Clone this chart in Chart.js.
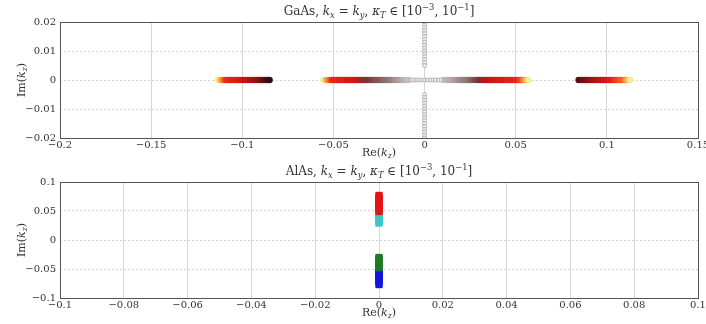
<!DOCTYPE html>
<html>
<head>
<meta charset="utf-8">
<script src="https://cdn.jsdelivr.net/npm/chart.js@4/dist/chart.umd.min.js"></script>
<style>
  html, body { margin: 0; padding: 0; background: #fff; }
  #wrap { position: relative; width: 706px; height: 324px; }
  canvas { position: absolute; left: 0; }
  #top { top: 0; }
  #bot { top: 160px; }
</style>
</head>
<body>
<div id="wrap">
  <canvas id="top" width="706" height="160"></canvas>
  <canvas id="bot" width="706" height="164"></canvas>
</div>
<script>
// ---------- Data: GaAs, Re(kz) of the real branches (Im = 0) ----------
const gaasBranchA = [-0.1135,-0.112,-0.1105,-0.109,-0.1075,-0.106,-0.1045,-0.103,-0.1015,-0.100,-0.0985,-0.097,-0.0955,-0.094,-0.0925,-0.091,-0.0895,-0.088,-0.0865,-0.085];
const gaasBranchB = [-0.0555,-0.054,-0.0525,-0.051,-0.0495,-0.048,-0.0465,-0.045,-0.0435,-0.042,-0.0405,-0.039,-0.0375,-0.036,-0.0345,-0.033,-0.0315,-0.030,-0.0285,-0.027,-0.0255,-0.024,-0.0225,-0.021,-0.0195,-0.018,-0.0165,-0.015,-0.0135,-0.012,-0.0105,-0.009];
const gaasBranchC = [0.0105,0.012,0.0135,0.015,0.0165,0.018,0.0195,0.021,0.0225,0.024,0.0255,0.027,0.0285,0.030,0.0315,0.033,0.0345,0.036,0.0375,0.039,0.0405,0.042,0.0435,0.045,0.0465,0.048,0.0495,0.051,0.0525,0.054,0.0555,0.057];
const gaasBranchD = [0.0845,0.086,0.0875,0.089,0.0905,0.092,0.0935,0.095,0.0965,0.098,0.0995,0.101,0.1025,0.104,0.1055,0.107,0.1085,0.110,0.1115,0.113];
// near-zero roots (open circles)
const gaasNearZeroRe = [-0.0075,-0.006,-0.0045,-0.003,-0.0015,0,0.0015,0.003,0.0045,0.006,0.0075,0.009];
const gaasImagIm = [0.020,0.019,0.018,0.017,0.016,0.015,0.014,0.013,0.012,0.011,0.010,0.009,0.008,0.007,0.006,0.005,
                    -0.005,-0.006,-0.007,-0.008,-0.009,-0.010,-0.011,-0.012,-0.013,-0.014,-0.015,-0.016,-0.017,-0.018,-0.019,-0.020];

// ---------- Data: AlAs, Im(kz) of the evanescent branches (Re = 0) ----------
const alasRed   = [0.077,0.075,0.073,0.071,0.069,0.067,0.065,0.063,0.061,0.059,0.057,0.055,0.053,0.051,0.049];
const alasCyan  = [0.047,0.045,0.043,0.041,0.039,0.037,0.035,0.033,0.031,0.029];
const alasGreen = [-0.030,-0.032,-0.034,-0.036,-0.038,-0.040,-0.042,-0.044,-0.046,-0.048];
const alasBlue  = [-0.050,-0.052,-0.054,-0.056,-0.058,-0.060,-0.062,-0.064,-0.066,-0.068,-0.070,-0.072,-0.074,-0.077];

// ---------- Tick labels ----------
const topXTicks = [-0.2,-0.15,-0.1,-0.05,0,0.05,0.1,0.15];
const topYTicks = [-0.02,-0.01,0,0.01,0.02];
const botXTicks = [-0.1,-0.08,-0.06,-0.04,-0.02,0,0.02,0.04,0.06,0.08,0.1];
const botYTicks = [-0.1,-0.05,0,0.05,0.1];

const SERIF = '"DejaVu Serif", "Liberation Serif", serif';
const TXT = '#333';

// ---------- colour helpers ----------
function hex2rgb(h){ return [1,3,5].map(i => parseInt(h.substr(i,2),16)); }
function ramp(stops, n){
  const out = [];
  for(let i=0;i<n;i++){
    const t = n>1 ? i/(n-1) : 0;
    let k = 0;
    while(k < stops.length-2 && t > stops[k+1][0]) k++;
    const [t0,c0] = stops[k], [t1,c1] = stops[k+1];
    const f = Math.min(1, Math.max(0, (t-t0)/(t1-t0)));
    const a = hex2rgb(c0), b = hex2rgb(c1);
    out.push(`rgb(${a.map((v,j)=>Math.round(v+(b[j]-v)*f)).join(',')})`);
  }
  return out;
}

const rampA = [[0,'#f0f0a0'],[0.06,'#ffa828'],[0.16,'#e83018'],[0.55,'#c81010'],[0.82,'#801010'],[1,'#281010']];
const rampB = [[0,'#f0f0a0'],[0.04,'#ffa030'],[0.1,'#e82818'],[0.4,'#d01414'],[0.5,'#7a3030'],[0.75,'#8a7070'],[1,'#c8c0c0']];
const rampC = [[0,'#c8c0c0'],[0.3,'#8a7070'],[0.42,'#703434'],[0.5,'#c01414'],[0.88,'#e82818'],[0.95,'#ff9030'],[1,'#f0f090']];
const rampD = [[0,'#501010'],[0.25,'#a01010'],[0.6,'#e01818'],[0.85,'#ff6020'],[1,'#f0f090']];

function filled(xs, stops){
  const cols = ramp(stops, xs.length);
  return {
    data: xs.map(x => ({x, y: 0})),
    pointRadius: 3.2, pointBorderWidth: 0,
    pointBackgroundColor: cols, pointBorderColor: cols
  };
}
function rings(pts){
  return {
    data: pts,
    pointRadius: 2, pointBorderWidth: 0.8,
    pointBackgroundColor: 'rgba(255,255,255,0.6)', pointBorderColor: '#a0a0a0'
  };
}
function column(ys, color){
  return {
    data: ys.map(y => ({x: 0, y})),
    pointStyle: 'rect', pointRadius: 5, pointBorderWidth: 0,
    pointBackgroundColor: color, pointBorderColor: color
  };
}

// ---------- rich text (italic / sub / sup) ----------
function richText(ctx, parts, cx, cy, size, rot){
  const fontOf = (k) => {
    const s = (k==='b'||k==='p') ? size*0.7 : size;
    const it = (k==='i'||k==='b') ? 'italic ' : '';
    return `${it}${s}px ${SERIF}`;
  };
  let w = 0;
  parts.forEach(([t,k]) => { ctx.font = fontOf(k); w += ctx.measureText(t).width; });
  ctx.save();
  ctx.translate(cx, cy);
  if(rot) ctx.rotate(rot);
  ctx.fillStyle = TXT;
  ctx.textBaseline = 'middle';
  ctx.textAlign = 'left';
  let x = -w/2;
  parts.forEach(([t,k]) => {
    ctx.font = fontOf(k);
    const dy = k==='b' ? size*0.3 : k==='p' ? -size*0.35 : 0;
    ctx.fillText(t, x, dy);
    x += ctx.measureText(t).width;
  });
  ctx.restore();
}

function titleParts(name){
  return [[name+', ','r'],['k','i'],['x','b'],[' = ','r'],['k','i'],['y','b'],[', ','r'],['κ','i'],['T','b'],
          [' ∈ [10','r'],['−3','p'],[', 10','r'],['−1','p'],[']','r']];
}
const imLabel = [['Im(','r'],['k','i'],['z','b'],[')','r']];
const reLabel = [['Re(','r'],['k','i'],['z','b'],[')','r']];

function decorPlugin(name){
  return {
    id: 'decor',
    afterDraw(chart){
      const {ctx, chartArea: a} = chart;
      ctx.save();
      ctx.strokeStyle = '#555';
      ctx.lineWidth = 1;
      ctx.strokeRect(a.left+0.5, a.top+0.5, a.right-a.left, a.bottom-a.top);
      ctx.restore();
      const mid = (a.left+a.right)/2;
      richText(ctx, titleParts(name), mid, 12, 12);
      richText(ctx, reLabel, mid, a.bottom+15, 11);
      richText(ctx, imLabel, 22, (a.top+a.bottom)/2, 11, -Math.PI/2);
    }
  };
}

const fmt = v => String(v).replace('-', '−');

function makeScales(xTicks, yTicks, xmin, xmax, ymin, ymax, xh){
  return {
    x: {
      type: 'linear', min: xmin, max: xmax,
      afterBuildTicks: s => { s.ticks = xTicks.map(v => ({value: v})); },
      afterFit: s => { s.height = xh; s.paddingLeft = 0; s.paddingRight = 0; },
      ticks: { callback: fmt, color: TXT, font: {family: SERIF, size: 10}, padding: 1, maxRotation: 0, autoSkip: false },
      grid: { color: '#d6d6d6', lineWidth: 1, drawTicks: false },
      border: { display: false }
    },
    y: {
      type: 'linear', min: ymin, max: ymax,
      afterBuildTicks: s => { s.ticks = yTicks.map(v => ({value: v})); },
      afterFit: s => { s.width = 60; s.paddingTop = 0; s.paddingBottom = 0; },
      ticks: { callback: fmt, color: TXT, font: {family: SERIF, size: 10}, padding: 4 },
      grid: { color: '#d4d4d4', lineWidth: 1, drawTicks: false },
      border: { display: false, dash: [2,2] }
    }
  };
}

const baseOpts = {
  responsive: false, animation: false,
  layout: { padding: { top: 22, right: 8, left: 0, bottom: 0 } },
  plugins: { legend: { display: false }, tooltip: { enabled: false } }
};

// ---------- GaAs ----------
new Chart(document.getElementById('top'), {
  type: 'scatter',
  data: { datasets: [
    rings(gaasImagIm.map(y => ({x: 0, y}))),
    rings(gaasNearZeroRe.map(x => ({x, y: 0}))),
    filled(gaasBranchA, rampA),
    filled(gaasBranchB, rampB),
    filled(gaasBranchC, rampC),
    filled(gaasBranchD, rampD)
  ]},
  options: { ...baseOpts, scales: makeScales(topXTicks, topYTicks, -0.2, 0.15, -0.02, 0.02, 22) },
  plugins: [decorPlugin('GaAs')]
});

// ---------- AlAs ----------
new Chart(document.getElementById('bot'), {
  type: 'scatter',
  data: { datasets: [
    column(alasRed, '#e41414'),
    column(alasCyan, '#38c8c8'),
    column(alasGreen, '#1e7a2a'),
    column(alasBlue, '#1414e0')
  ]},
  options: { ...baseOpts, scales: makeScales(botXTicks, botYTicks, -0.1, 0.1, -0.1, 0.1, 26) },
  plugins: [decorPlugin('AlAs')]
});
</script>
</body>
</html>
